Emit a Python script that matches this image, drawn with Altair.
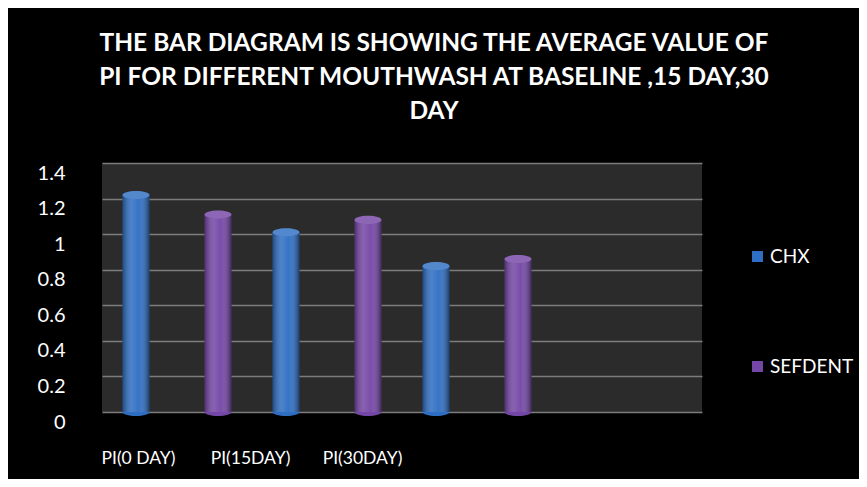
import altair as alt
import pandas as pd

categories = ["PI(0 DAY)", "PI(15DAY)", "PI(30DAY)"]
series = ["CHX", "SEFDENT"]
chx_values = [1.22, 1.01, 0.82]
sefdent_values = [1.11, 1.08, 0.86]
colors = ["#2e6ec3", "#7446a6"]
y_ticks = [0, 0.2, 0.4, 0.6, 0.8, 1, 1.2, 1.4]

rows = []
for i, c in enumerate(categories):
    rows.append({"cat": c, "series": "CHX", "value": chx_values[i], "zero": 0})
    rows.append({"cat": c, "series": "SEFDENT", "value": sefdent_values[i], "zero": 0})
df = pd.DataFrame(rows)
lab_df = pd.DataFrame({"cat": categories})

FONT = "Lato"
ellipse = "M-1,0A1,0.3,0,1,1,1,0A1,0.3,0,1,1,-1,0Z"

xscale = alt.Scale(domain=categories, paddingInner=0, paddingOuter=0.5, align=0)
xoff = alt.XOffset("series:N", scale=alt.Scale(domain=series, paddingInner=0.67, paddingOuter=0.25))
yscale = alt.Scale(domain=[0, 1.4], nice=False)
yaxis = alt.Axis(values=y_ticks, title=None, labelFont=FONT, labelFontSize=20,
                 labelColor="white", labelPadding=37, labelOffset=10, ticks=False,
                 domain=False, grid=True, gridColor="#7c7c7c", gridWidth=1.5,
                 labelOverlap=False, tickCount=8,
                 labelExpr="datum.value == 0 ? '0' : format(datum.value, '.1~f')")
color = alt.Color("series:N", scale=alt.Scale(domain=series, range=colors),
                  legend=alt.Legend(title=None, orient="none", legendX=646, legendY=84,
                                    symbolType="square", symbolSize=121, symbolStrokeWidth=0,
                                    labelFontSize=19, labelFont=FONT, labelColor="white",
                                    rowPadding=90, labelOffset=3))

base = alt.Chart(df).encode(
    x=alt.X("cat:N", scale=xscale, axis=None),
    xOffset=xoff,
)

bottom_caps = base.mark_point(filled=True, shape=ellipse, size=729, strokeWidth=0, opacity=1).encode(
    y=alt.Y("zero:Q", scale=yscale, axis=yaxis), color=color)

bars = base.mark_bar(width=27).encode(
    y=alt.Y("value:Q", scale=yscale, axis=yaxis),
    y2="zero:Q",
    color=color,
)

shade = base.mark_bar(width=27, color=alt.Gradient(
    gradient="linear", x1=0, x2=1, y1=0, y2=0,
    stops=[alt.GradientStop(offset=0, color="rgba(0,0,0,0.35)"),
           alt.GradientStop(offset=0.35, color="rgba(255,255,255,0.14)"),
           alt.GradientStop(offset=0.6, color="rgba(255,255,255,0.04)"),
           alt.GradientStop(offset=1, color="rgba(0,0,0,0.45)")])).encode(
    y=alt.Y("value:Q", scale=yscale, axis=yaxis), y2="zero:Q")

top_caps = base.mark_point(filled=True, shape=ellipse, size=729, strokeWidth=0, opacity=1).encode(
    y=alt.Y("value:Q", scale=yscale, axis=yaxis), color=color)
top_light = base.mark_point(filled=True, shape=ellipse, size=729, strokeWidth=0, opacity=0.18,
                            color="white").encode(y=alt.Y("value:Q", scale=yscale, axis=yaxis))

labels = alt.Chart(lab_df).mark_point(opacity=0).encode(
    x=alt.X("cat:N", scale=alt.Scale(type="point", domain=categories, range=[36, 260], padding=0),
            axis=alt.Axis(orient="bottom", title=None, labelFont=FONT, labelFontSize=17.5,
                          labelColor="white", labelPadding=37, ticks=False, domain=False,
                          labelAngle=0)))

chart = alt.layer(bottom_caps, bars, shade, top_caps, top_light, labels).resolve_scale(
    x="independent"
).properties(
    width=600, height=249,
    background="black",
    autosize=alt.AutoSizeParams(type="none"),
    padding={"left": 94, "top": 155, "right": 157, "bottom": 67},
    title=alt.Title(["THE BAR DIAGRAM IS SHOWING THE AVERAGE VALUE OF",
                     "PI FOR DIFFERENT MOUTHWASH AT BASELINE ,15 DAY,30",
                     "DAY"],
                    font=FONT, fontSize=24.5, fontWeight="bold", color="white",
                    anchor="middle", dx=32, lineHeight=34, offset=39),
).configure_view(fill="#2b2b2b", stroke=None)

chart.save("out.html", embed_options={"renderer": "svg", "actions": False})
